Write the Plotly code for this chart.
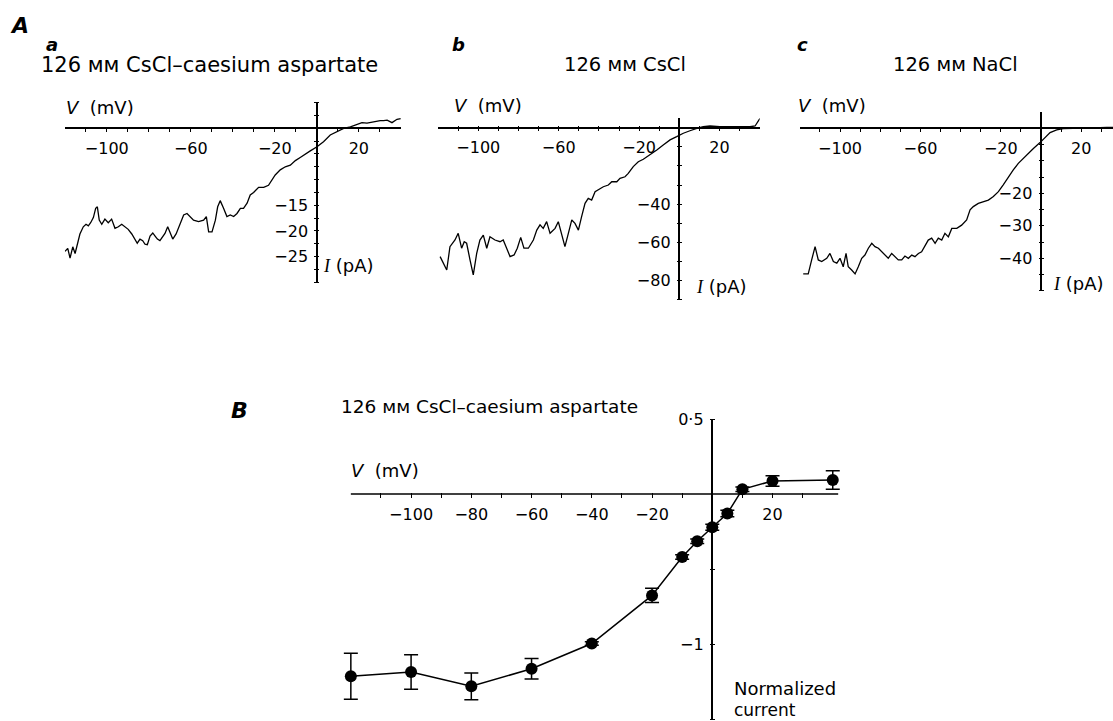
import plotly.graph_objects as go

# ---------------- data ----------------
# Panel A a : 126 mM CsCl-caesium aspartate, voltage ramp current
V_a = [-119.9, -118.6, -117.5, -116.2, -115.1, -114.0, -112.8, -111.2, -109.9, -108.8,
       -107.7, -106.4, -105.3, -104.5, -103.6, -102.4, -100.9, -99.3, -97.7, -96.1,
       -94.5, -92.9, -91.3, -89.8, -88.1, -86.6, -85.5, -84.2, -82.9, -81.8,
       -80.7, -79.4, -78.1, -77.0, -75.9, -74.7, -73.4, -72.3, -71.0, -69.9,
       -68.6, -67.0, -65.5,
       -63.4, -61.8, -58.7, -56.3, -53.9, -52.6, -51.5, -49.9, -48.3, -47.2,
       -46.0, -44.4, -42.8, -41.2, -39.6, -38.0, -36.4, -34.9, -33.2, -31.7,
       -30.1, -27.7, -25.3, -23.0, -21.3, -19.8, -17.4, -15.0, -12.6, -10.2,
       -7.9, -5.5, -3.1, 0.1, 3.2, 6.4, 9.6, 12.8, 16.0, 19.1,
       21.5, 23.9, 26.3, 28.7, 30.2, 31.8, 33.5, 35.8, 38.2, 40.0]
I_a = [-24.0, -23.4, -25.3, -23.1, -24.4, -22.4, -20.6, -19.2, -18.7, -19.0,
       -18.4, -17.4, -15.6, -15.3, -17.9, -18.7, -17.7, -18.4, -17.7, -19.5,
       -19.2, -18.7, -19.2, -19.7, -20.6, -21.8, -22.4, -21.6, -21.9, -22.6,
       -22.7, -21.0, -20.4, -21.0, -21.6, -21.9, -21.2, -20.5, -19.2, -20.5,
       -21.6, -20.6, -19.2,
       -16.9, -16.6, -17.9, -18.2, -17.9, -17.2, -20.2, -20.2, -17.9, -15.3,
       -14.1, -15.6, -17.2, -16.9, -17.2, -16.6, -15.6, -15.6, -14.6, -13.0,
       -12.5, -11.5, -11.5, -11.1, -10.1, -9.1, -8.1, -7.5, -7.2, -6.3,
       -5.7, -5.0, -4.4, -3.6, -2.6, -1.3, -0.7, 0.0, 0.3, 0.8,
       1.1, 1.0, 1.2, 1.3, 1.5, 1.5, 1.6, 1.1, 1.75, 1.9]

# Panel A b : 126 mM CsCl
V_b = [-119.0, -117.4, -115.7, -114.1, -111.6, -110.0, -108.3, -107.0, -105.8, -104.1,
       -102.5, -100.8, -99.2, -97.5, -95.8, -94.2, -91.7, -89.2, -87.6, -85.9,
       -84.2, -82.2, -80.6, -78.9, -77.3, -75.1, -72.6, -70.9, -69.3, -67.7,
       -66.0, -64.3, -61.8, -60.2, -58.5, -56.9, -55.2, -53.5, -51.9, -50.2,
       -48.6, -46.9, -45.3, -43.6, -41.9, -39.5, -37.8, -35.3, -33.6, -31.1,
       -29.5, -27.0, -25.4, -22.9, -20.4, -17.9, -14.6, -11.2, -8.0, -4.6,
       -1.3, 2.0, 5.3, 8.7, 11.9, 15.3, 20.2, 25.2, 30.2, 35.2, 37.7, 40.2]
I_b = [-67.5, -71.0, -74.5, -62.3, -58.8, -55.3, -63.1, -59.7, -60.5, -69.3,
       -77.1, -65.8, -58.8, -56.2, -63.1, -57.1, -58.8, -59.7, -58.8, -63.1,
       -67.5, -66.6, -63.1, -57.4, -63.1, -63.1, -58.8, -53.6, -50.9, -52.7,
       -49.2, -55.3, -52.7, -49.2, -55.3, -62.3, -55.3, -48.3, -50.1, -53.6,
       -46.6, -39.6, -37.0, -37.9, -33.5, -31.7, -30.9, -30.0, -28.3, -28.3,
       -26.5, -25.7, -23.9, -20.4, -17.8, -16.5, -14.3, -11.7, -9.1, -6.4,
       -4.7, -2.9, -1.6, -0.3, 0.5, 0.9, 0.5, 0.5, 0.5, 0.5, 0.9, 5.0]

# Panel A c : 126 mM NaCl
V_c = [-118.3, -115.8, -114.1, -112.4, -110.8, -109.1, -106.6, -105.0, -103.3, -101.6,
       -100.0, -98.4, -97.0, -95.9, -94.2, -92.5, -90.9, -89.2, -87.6, -85.9,
       -84.2, -82.6, -80.9, -79.3, -77.6, -76.0, -74.3, -72.6, -71.0, -69.3,
       -67.7, -66.0, -64.3, -62.7, -61.0, -59.4, -57.7, -56.1, -54.4, -52.7,
       -51.1, -49.4, -47.8, -46.1, -44.4, -41.9, -39.5, -37.0, -35.3, -33.7,
       -31.2, -28.7, -26.2, -23.7, -21.2, -18.8, -16.3, -13.8, -11.3, -8.8,
       -6.3, -3.8, -0.5, 2.0, 4.5, 7.8, 11.1, 16.0, 24.4, 29.4, 32.7, 35.8]
I_c = [-44.8, -44.8, -40.5, -36.4, -40.5, -41.0, -40.0, -38.5, -41.0, -41.5,
       -40.0, -42.6, -38.5, -42.6, -43.6, -44.8, -42.6, -40.0, -39.0, -36.9,
       -35.4, -36.4, -36.9, -38.0, -39.0, -40.0, -38.5, -39.5, -40.5, -40.5,
       -39.3, -40.0, -39.0, -39.5, -38.5, -38.0, -35.9, -34.4, -33.8, -35.4,
       -33.8, -34.4, -32.3, -33.4, -30.8, -30.8, -29.8, -28.2, -25.1, -24.1,
       -23.1, -22.6, -22.1, -21.0, -19.5, -17.4, -14.9, -12.8, -10.8, -9.2,
       -7.7, -6.2, -4.4, -2.8, -1.3, -0.5, -0.1, 0.0, 0.0, 0.2, 0.3, 0.3]

# Panel B : normalized I-V (mean +/- s.e.m.)
V_B = [-120, -100, -80, -60, -40, -20, -10, -5, 0, 5, 10, 20, 40]
I_B = [-1.215, -1.187, -1.282, -1.165, -0.997, -0.676, -0.42, -0.315, -0.222,
       -0.13, 0.031, 0.087, 0.093]
E_B = [0.154, 0.115, 0.089, 0.069, 0.012, 0.047, 0.015, 0.015, 0.02,
       0.022, 0.015, 0.035, 0.062]

# tick values / labels
XT = [-110, -100, -90, -80, -70, -60, -50, -40, -30, -20, -10, 10, 20, 30]
XL_A = {-100: "\u2212100", -60: "\u221260", -20: "\u221220", 20: "20"}
XL_B = {-100: "\u2212100", -80: "\u221280", -60: "\u221260", -40: "\u221240",
        -20: "\u221220", 20: "20"}
YT_a = [-30, -27.5, -25, -22.5, -20, -17.5, -15, -12.5, -10, -7.5, -5, -2.5, 2.5, 5]
YL_a = {-15: "\u221215", -20: "\u221220", -25: "\u221225"}
YT_b = [-90, -80, -70, -60, -50, -40, -30, -20, -10]
YL_b = {-40: "\u221240", -60: "\u221260", -80: "\u221280"}
YT_c = [-50, -45, -40, -35, -30, -25, -20, -15, -10, -5]
YL_c = {-20: "\u221220", -30: "\u221230", -40: "\u221240"}
YT_B = [-1.5, -1.0, -0.5, 0.5]
YL_B = {-1.0: "\u22121", 0.5: "0\u00b75"}
# extent of the drawn voltage axis in panel B
AXIS_B = [-120, 41.8]

# ---------------- layout helpers ----------------
W, H = 1113, 721
FONT = "DejaVu Sans"
L = 2.5  # half tick length (ticks cross the axis line)

fig = go.Figure()
layout = dict(width=W, height=H, margin=dict(l=0, r=0, t=0, b=0),
              paper_bgcolor="white", plot_bgcolor="white", showlegend=False)


def panel(n, pxl, pxr, pyt, pyb, xr, yr, xtv, xlab, ytv, ylab, fs=16, yzero=True):
    xn = "xaxis" if n == 1 else f"xaxis{n}"
    yn = "yaxis" if n == 1 else f"yaxis{n}"
    px0 = pxl + (0 - xr[0]) / (xr[1] - xr[0]) * (pxr - pxl)
    py0 = pyb - (0 - yr[0]) / (yr[1] - yr[0]) * (pyb - pyt)
    common = dict(showgrid=False, showline=False, zeroline=True, zerolinecolor="black",
                  zerolinewidth=1.6, ticks="outside", ticklen=2 * L, tickwidth=1.4,
                  tickcolor="black", automargin=False, anchor="free", fixedrange=True)
    layout[xn] = dict(common, domain=[pxl / W, pxr / W], range=xr,
                      position=1 - (py0 - L) / H, side="bottom",
                      tickvals=xtv, ticktext=[xlab.get(v, "") for v in xtv],
                      tickfont=dict(family=FONT, size=fs, color="black"),
                      ticklabelstandoff=3)
    layout[yn] = dict(common, domain=[1 - pyb / H, 1 - pyt / H], range=yr,
                      position=(px0 + L) / W, side="left", zeroline=yzero,
                      tickvals=ytv, ticktext=[ylab.get(v, "") for v in ytv],
                      tickfont=dict(family=FONT, size=fs, color="black"),
                      ticklabelstandoff=3)
    return ("x" if n == 1 else f"x{n}"), ("y" if n == 1 else f"y{n}")


xa, ya = panel(1, 64.8, 400.8, 102.65, 282.2, [-120, 40], [-30, 5], XT, XL_A, YT_a, YL_a)
xb, yb = panel(2, 438.1, 759.7, 118.15, 299.6, [-120, 40], [-90, 5], XT, XL_A, YT_b, YL_b)
xc, yc = panel(3, 799.8, 1113, 112.05, 290.8, [-120, 35.8], [-50, 5], XT, XL_A, YT_c, YL_c)
# panel B: scale 3.0124 px/mV, range padded so the error-bar caps are not clipped
xB, yB = panel(4, 340.3, 842.7, 419, 719, [-123.5, 43.3], [-1.5, 0.5], XT, XL_B, YT_B, YL_B,
               yzero=False)

trace_line = dict(color="black", width=1.3)
fig.add_trace(go.Scatter(x=V_a, y=I_a, mode="lines", line=trace_line, xaxis=xa, yaxis=ya))
fig.add_trace(go.Scatter(x=V_b, y=I_b, mode="lines", line=trace_line, xaxis=xb, yaxis=yb))
fig.add_trace(go.Scatter(x=V_c, y=I_c, mode="lines", line=trace_line, xaxis=xc, yaxis=yc))
fig.add_trace(go.Scatter(x=V_B, y=I_B, mode="lines+markers",
                         line=dict(color="black", width=1.5),
                         marker=dict(color="black", size=12),
                         error_y=dict(type="data", array=E_B, visible=True,
                                      color="black", thickness=1.5, width=7),
                         cliponaxis=False, xaxis=xB, yaxis=yB))

# horizontal (voltage) axis line of panel B
layout["shapes"] = [dict(type="line", xref=xB, yref=yB, x0=AXIS_B[0], x1=AXIS_B[1],
                         y0=0, y1=0, line=dict(color="black", width=1.6), layer="below")]


def ann(text, px, py, size, xanchor="left", yanchor="middle", family=FONT):
    return dict(text=text, x=px / W, y=1 - py / H, xref="paper", yref="paper",
                xanchor=xanchor, yanchor=yanchor, showarrow=False, borderpad=0,
                font=dict(family=family, size=size, color="black"))


SERIF_I = "<span style=\"font-family:'Liberation Serif'\"><i>I</i></span>\u00a0(pA)"
V_LAB = "<i>V</i>\u00a0 (mV)"
annotations = [
    ann("<b><i>A</i></b>", 19, 26, 22, "center"),
    ann("<b><i>a</i></b>", 52, 45, 18, "center"),
    ann("<b><i>b</i></b>", 458, 45, 18, "center"),
    ann("<b><i>c</i></b>", 802, 45, 18, "center"),
    ann("126 \u1d0d\u1d0d CsCl\u2013caesium aspartate", 40, 65, 21),
    ann("126 \u1d0d\u1d0d CsCl", 563, 65, 19.5),
    ann("126 \u1d0d\u1d0d NaCl", 892, 65, 19.5),
    ann(V_LAB, 65, 108, 18),
    ann(V_LAB, 453, 106, 18),
    ann(V_LAB, 797, 106, 18),
    ann(SERIF_I, 322, 265, 18),
    ann(SERIF_I, 695, 286, 18),
    ann(SERIF_I, 1052, 283, 18),
    ann("<b><i>B</i></b>", 239, 410, 22, "center"),
    ann("126 \u1d0d\u1d0d CsCl\u2013caesium aspartate", 340, 406, 18.5),
    ann(V_LAB, 350, 470, 18),
    ann("Normalized", 733, 688, 18),
    ann("current", 733, 710, 17),
]
layout["annotations"] = annotations
fig.update_layout(**layout)
fig.write_html("out.html")
